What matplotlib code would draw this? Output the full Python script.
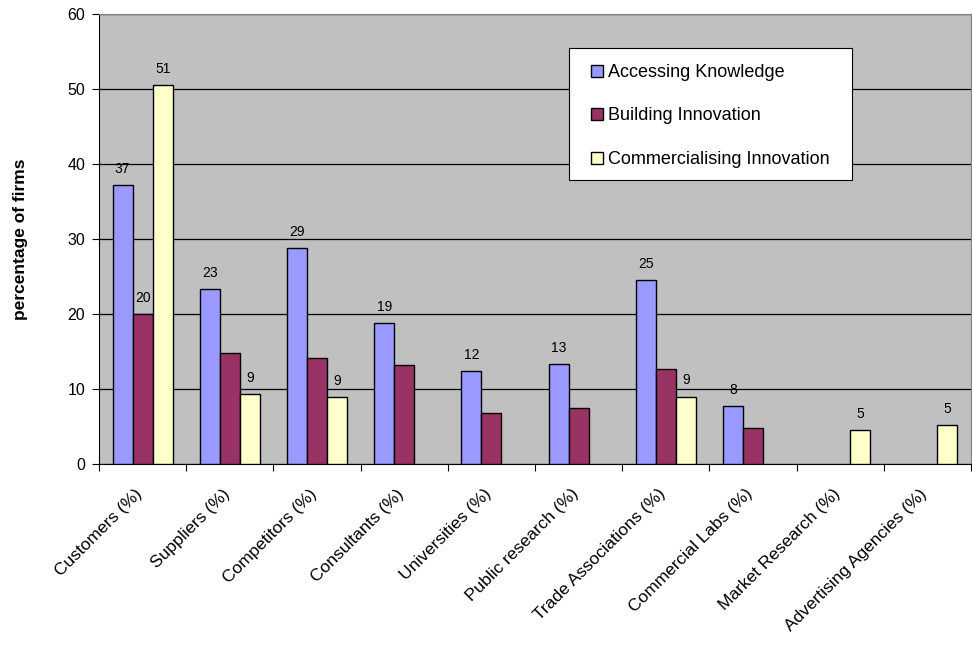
import numpy as np
import matplotlib.pyplot as plt
import matplotlib.transforms as mtransforms
from matplotlib.patches import Rectangle

plt.rcParams['font.family'] = ['Liberation Sans', 'DejaVu Sans']

categories = ["Customers (%)", "Suppliers (%)", "Competitors (%)", "Consultants (%)",
              "Universities (%)", "Public research (%)", "Trade Associations (%)",
              "Commercial Labs (%)", "Market Research (%)", "Advertising Agencies (%)"]
accessing = [37.2, 23.3, 28.8, 18.8, 12.4, 13.4, 24.6, 7.7, 0, 0]
building = [20.0, 14.8, 14.1, 13.2, 6.8, 7.5, 12.7, 4.8, 0, 0]
commercialising = [50.5, 9.3, 8.9, 0, 0, 0, 9.0, 0, 4.5, 5.2]

# value labels as shown on the chart ('' = no label)
acc_labels = ["37", "23", "29", "19", "12", "13", "25", "8", "", ""]
bui_labels = ["20", "", "", "", "", "", "", "", "", ""]
com_labels = ["51", "9", "9", "", "", "", "9", "", "5", "5"]

series = [
    ("Accessing Knowledge", accessing, acc_labels, "#9999FF"),
    ("Building Innovation", building, bui_labels, "#993366"),
    ("Commercialising Innovation", commercialising, com_labels, "#FFFFCC"),
]

fig = plt.figure(figsize=(9.72, 6.45), dpi=100)
ax = fig.add_axes([99/972, 1-464/645, 872/972, 450/645])
ax.set_facecolor("#C0C0C0")

x = np.arange(len(categories))
w = 0.23
for i, (name, vals, labs, col) in enumerate(series):
    pos = x + (i - 1) * w
    vals = np.array(vals, dtype=float)
    mask = vals > 0
    ax.bar(pos[mask], vals[mask], w, color=col, edgecolor="black", linewidth=1.0,
           label=name, zorder=3)
    for p, v, l in zip(pos, vals, labs):
        if l:
            ax.text(p, v + 1.2, l, ha="center", va="bottom", fontsize=10, zorder=4)

ax.set_xlim(-0.5, len(categories) - 0.5)
ax.set_ylim(0, 60)
ax.set_yticks(range(0, 61, 10))
ax.yaxis.grid(True, color="black", linewidth=0.9, zorder=1)
ax.set_axisbelow(True)

ax.set_xticks(np.arange(len(categories) + 1) - 0.5)
ax.set_xticklabels([])
ax.set_xticks(x, minor=True)
ax.set_xticklabels(categories, minor=True, rotation=45, ha="right",
                   rotation_mode="anchor", fontsize=12.5)
ax.tick_params(axis="x", which="minor", length=0, pad=16)
ax.tick_params(axis="x", which="major", length=5, direction="out", color="black")
ax.tick_params(axis="y", length=5, direction="out", labelsize=11.5, pad=5, color="black")

shift = mtransforms.ScaledTranslation(-8 / 100, 0, fig.dpi_scale_trans)
for lab in ax.get_xticklabels(minor=True):
    lab.set_transform(lab.get_transform() + shift)

for s in ["top", "right"]:
    ax.spines[s].set_color("#808080")
for s in ["left", "bottom"]:
    ax.spines[s].set_color("black")

ax.set_ylabel("percentage of firms", fontsize=12.5, fontweight="bold")
ax.yaxis.set_label_coords(-0.081, 0.5)

# legend box drawn separately so its padding matches the original
ax.add_patch(Rectangle((0.539, 0.631), 0.3245, 0.2933, transform=ax.transAxes,
                       facecolor="white", edgecolor="black", linewidth=0.8, zorder=5))
leg = ax.legend(loc="upper left", bbox_to_anchor=(0.5645, 0.889), fontsize=13,
                frameon=False, handlelength=0.65, handleheight=0.65,
                handletextpad=0.3, labelspacing=1.47, borderpad=0, borderaxespad=0)
leg.set_zorder(6)

fig.savefig("out.png", dpi=100)
